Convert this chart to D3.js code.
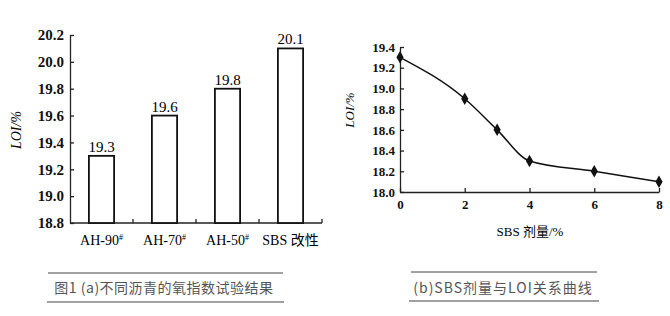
<!DOCTYPE html>
<html>
<head>
<meta charset="utf-8">
<script src="https://cdn.jsdelivr.net/npm/d3@7"></script>
<style>
  body { margin: 0; background: #fff; }
  svg { display: block; }
  .axis path, .axis line { stroke: #222; stroke-width: 1.3; }
  .axis text { font-family: "Liberation Serif", serif; fill: #111; }
  .cap { font-family: "Noto Sans CJK SC", sans-serif; fill: #555; font-size: 14px; }
</style>
</head>
<body>
<div id="chart"></div>
<script>
// (a) LOI of different asphalts
const barCats = ["AH-90", "AH-70", "AH-50", "SBS 改性"];
const barSup = ["#", "#", "#", ""];
const barVals = [19.3, 19.6, 19.8, 20.1];
const barTicks = [18.8, 19.0, 19.2, 19.4, 19.6, 19.8, 20.0, 20.2];

// (b) SBS dosage vs LOI
const dose = [0, 2, 3, 4, 6, 8];
const loi = [19.3, 18.9, 18.6, 18.3, 18.2, 18.1];
const doseTicks = [0, 2, 4, 6, 8];
const loiTicks = [18.0, 18.2, 18.4, 18.6, 18.8, 19.0, 19.2, 19.4];

const svg = d3.select("#chart").append("svg")
    .attr("width", 670)
    .attr("height", 316);

// ---------- left: bars ----------
let xa = d3.scaleBand().domain(barCats).range([70, 322]).paddingInner(0.6).paddingOuter(0.3);
let ya = d3.scaleLinear().domain([18.8, 20.2]).range([223, 35]);

let ga = svg.append("g");

ga.append("g").attr("class", "axis")
    .attr("transform", "translate(70,0)")
    .call(d3.axisLeft(ya).tickValues(barTicks).tickFormat(d3.format(".1f"))
        .tickSizeInner(-4).tickSizeOuter(0).tickPadding(6))
    .selectAll("text").style("font-size", "15px").style("font-weight", "bold");

// x axis line, ticks between categories
ga.append("line")
    .attr("x1", 70).attr("x2", 322)
    .attr("y1", 223).attr("y2", 223)
    .attr("stroke", "#222").attr("stroke-width", 1.3);
ga.selectAll(".sep").data(barCats).enter().append("line")
    .attr("class", "sep")
    .attr("x1", d => xa(d) + xa.bandwidth() / 2 + xa.step() / 2)
    .attr("x2", d => xa(d) + xa.bandwidth() / 2 + xa.step() / 2)
    .attr("y1", 223).attr("y2", 219)
    .attr("stroke", "#222").attr("stroke-width", 1.3);

ga.selectAll(".bar").data(barCats).enter().append("rect")
    .attr("class", "bar")
    .attr("x", d => xa(d))
    .attr("width", xa.bandwidth())
    .attr("y", (d, i) => ya(barVals[i]))
    .attr("height", (d, i) => ya(18.8) - ya(barVals[i]))
    .attr("fill", "#fff")
    .attr("stroke", "#111")
    .attr("stroke-width", 1.8);

ga.selectAll(".val").data(barCats).enter().append("text")
    .attr("class", "val")
    .attr("x", d => xa(d) + xa.bandwidth() / 2)
    .attr("y", (d, i) => ya(barVals[i]) - 4)
    .attr("text-anchor", "middle")
    .style("font-family", "Liberation Serif, serif")
    .style("font-size", "15px")
    .text((d, i) => barVals[i].toFixed(1));

let lab = ga.selectAll(".cat").data(barCats).enter().append("text")
    .attr("class", "cat")
    .attr("x", d => xa(d) + xa.bandwidth() / 2)
    .attr("y", 245)
    .attr("text-anchor", "middle")
    .style("font-family", "Liberation Serif, Noto Sans CJK SC, serif")
    .style("font-size", "14px");
lab.append("tspan").text(d => d);
lab.append("tspan")
    .attr("dy", -5)
    .style("font-size", "8px")
    .text((d, i) => barSup[i]);

ga.append("text")
    .attr("transform", "translate(21,130) rotate(-90)")
    .attr("text-anchor", "middle")
    .style("font-family", "Liberation Serif, serif")
    .style("font-style", "italic")
    .style("font-size", "14px")
    .text("LOI/%");

// ---------- right: line ----------
let xb = d3.scaleLinear().domain([0, 8]).range([400, 659]);
let yb = d3.scaleLinear().domain([18.0, 19.4]).range([192, 47]);

let gb = svg.append("g");

gb.append("g").attr("class", "axis")
    .attr("transform", "translate(400,0)")
    .call(d3.axisLeft(yb).tickValues(loiTicks).tickFormat(d3.format(".1f"))
        .tickSizeInner(-4).tickSizeOuter(0).tickPadding(5))
    .selectAll("text").style("font-size", "13px").style("font-weight", "bold");

gb.append("g").attr("class", "axis")
    .attr("transform", "translate(0,192)")
    .call(d3.axisBottom(xb).tickValues(doseTicks)
        .tickSizeInner(-4).tickSizeOuter(0).tickPadding(8))
    .selectAll("text").style("font-size", "13px").style("font-weight", "bold");

let pts = dose.map((d, i) => ({x: d, y: loi[i]}));

gb.append("path")
    .datum(pts)
    .attr("fill", "none")
    .attr("stroke", "#111")
    .attr("stroke-width", 1.5)
    .attr("d", d3.line().x(d => xb(d.x)).y(d => yb(d.y)).curve(d3.curveMonotoneX));

gb.selectAll(".pt").data(pts).enter().append("path")
    .attr("class", "pt")
    .attr("transform", d => "translate(" + xb(d.x) + "," + yb(d.y) + ")")
    .attr("d", d3.symbol().type(d3.symbolDiamond).size(45))
    .attr("fill", "#111");

gb.append("text")
    .attr("x", 530).attr("y", 236)
    .attr("text-anchor", "middle")
    .style("font-family", "Liberation Serif, Noto Sans CJK SC, serif")
    .style("font-size", "13px")
    .text("SBS 剂量/%");

gb.append("text")
    .attr("transform", "translate(354,110) rotate(-90)")
    .attr("text-anchor", "middle")
    .style("font-family", "Liberation Serif, serif")
    .style("font-style", "italic")
    .style("font-size", "13px")
    .text("LOI/%");

// ---------- captions ----------
svg.append("line").attr("x1", 48).attr("x2", 283).attr("y1", 273).attr("y2", 273).attr("stroke", "#444");
svg.append("line").attr("x1", 47).attr("x2", 284).attr("y1", 302).attr("y2", 302).attr("stroke", "#444");
svg.append("text").attr("class", "cap")
    .attr("x", 164).attr("y", 293)
    .attr("text-anchor", "middle")
    .style("letter-spacing", "0.5px")
    .text("图1 (a)不同沥青的氧指数试验结果");

svg.append("line").attr("x1", 411).attr("x2", 597).attr("y1", 272).attr("y2", 272).attr("stroke", "#444");
svg.append("line").attr("x1", 409).attr("x2", 599).attr("y1", 301).attr("y2", 301).attr("stroke", "#444");
svg.append("text").attr("class", "cap")
    .attr("x", 503).attr("y", 293)
    .attr("text-anchor", "middle")
    .style("letter-spacing", "1px")
    .text("(b)SBS剂量与LOI关系曲线");
</script>
</body>
</html>
